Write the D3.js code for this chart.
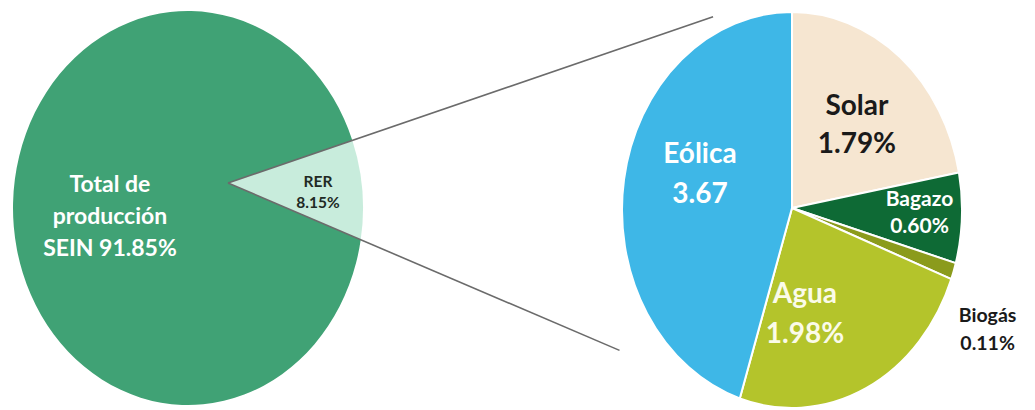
<!DOCTYPE html>
<html>
<head>
<meta charset="utf-8">
<script src="https://cdn.jsdelivr.net/npm/d3@7"></script>
<style>
  html, body { margin: 0; padding: 0; background: #ffffff; }
  svg { display: block; font-family: Lato, "Open Sans", sans-serif; }
</style>
</head>
<body>
<svg id="chart" width="1035" height="410"></svg>
<script>
// ---------- data ----------
const leftCategories = ["Total de producción SEIN", "RER"];
const leftValues = [91.85, 8.15];
const leftLabels = [["Total de", "producción", "SEIN 91.85%"], ["RER", "8.15%"]];

const rightCategories = ["Solar", "Bagazo", "Biogás", "Agua", "Eólica"];
const rightValues = [1.79, 0.60, 0.11, 1.98, 3.67];
const rightLabels = [["Solar", "1.79%"], ["Bagazo", "0.60%"], ["Biogás", "0.11%"], ["Agua", "1.98%"], ["Eólica", "3.67"]];

// ---------- layout / style ----------
const leftColors = d3.scaleOrdinal().domain(leftCategories).range(["#40a275", "#c8ecdc"]);
const rightColors = d3.scaleOrdinal().domain(rightCategories)
  .range(["#f6e6d1", "#0e6a35", "#8b9b1c", "#b4c42b", "#3eb7e7"]);

const L = { cx: 188, cy: 208, rx: 175, ry: 197, apex: [228, 183], rerMidDeg: 84.6 };
const R = { cx: 792, cy: 210, rx: 170, ry: 198, apex: [792, 208] };

const svg = d3.select("#chart");

// point on an ellipse at a d3-style angle (0 = top, clockwise), radius factor k
function ellPt(E, a, k = 1) {
  return [E.cx + k * E.rx * Math.sin(a), E.cy - k * E.ry * Math.cos(a)];
}
// wedge from apex to the ellipse boundary between two angles
function wedge(E, d) {
  const p0 = ellPt(E, d.startAngle), p1 = ellPt(E, d.endAngle);
  const large = (d.endAngle - d.startAngle) > Math.PI ? 1 : 0;
  return `M${E.apex[0]},${E.apex[1]}L${p0[0]},${p0[1]}A${E.rx},${E.ry} 0 ${large} 1 ${p1[0]},${p1[1]}Z`;
}

// ---------- left pie ----------
const rerFrac = leftValues[1] / d3.sum(leftValues);
const rerEnd = L.rerMidDeg * Math.PI / 180 + rerFrac * Math.PI;
const leftPie = d3.pie().sort(null).value(d => d)
  .startAngle(rerEnd - 2 * Math.PI).endAngle(rerEnd);
const leftArcs = leftPie(leftValues);

svg.append("g").selectAll("path").data(leftArcs).join("path")
  .attr("d", d => wedge(L, d))
  .attr("fill", (d, i) => leftColors(leftCategories[i]));

// connector lines (extensions of the RER slice edges)
const rer = leftArcs[1];
const edgePts = [ellPt(L, rer.startAngle), ellPt(L, rer.endAngle)];
const extend = [3.9, 2.95];
svg.append("g").selectAll("line").data(edgePts).join("line")
  .attr("x1", L.apex[0]).attr("y1", L.apex[1])
  .attr("x2", (p, i) => L.apex[0] + extend[i] * (p[0] - L.apex[0]))
  .attr("y2", (p, i) => L.apex[1] + extend[i] * (p[1] - L.apex[1]))
  .attr("stroke", "#6b6b6b").attr("stroke-width", 1.6);

// left labels
const leftLabelCfg = [
  { k: 0.448, dx: 0, dy: 0, size: 23, gap: 32, color: "#ffffff" },
  { k: 0.746, dx: 0, dy: -2, size: 15.5, gap: 21, color: "#1f2a24" }
];
leftArcs.forEach((d, i) => {
  const c = leftLabelCfg[i];
  const mid = (d.startAngle + d.endAngle) / 2;
  const [x, y] = ellPt(L, mid, c.k);
  const lines = leftLabels[i];
  const t = svg.append("text")
    .attr("text-anchor", "middle")
    .attr("font-size", c.size).attr("font-weight", 700)
    .attr("fill", c.color);
  lines.forEach((s, j) => {
    t.append("tspan").attr("x", x + c.dx)
      .attr("y", y + c.dy + (j - (lines.length - 1) / 2) * c.gap)
      .attr("dy", "0.35em").text(s);
  });
});

// ---------- right pie ----------
const rightPie = d3.pie().sort(null).value(d => d).startAngle(0).endAngle(2 * Math.PI);
const rightArcs = rightPie(rightValues);

svg.append("g").selectAll("path").data(rightArcs).join("path")
  .attr("d", d => wedge(R, d))
  .attr("fill", (d, i) => rightColors(rightCategories[i]))
  .attr("stroke", "#ffffff").attr("stroke-width", 2).attr("stroke-linejoin", "round");

const rightLabelCfg = [
  { k: 0.60, dx: 0, dy: 6, size: 28, gap: 38, color: "#1a1a1a" },
  { k: 0.68, dx: 12, dy: -3, size: 21, gap: 27, color: "#ffffff" },
  { k: 1.21, dx: 0, dy: 45, size: 19.5, gap: 28, color: "#1a1a1a" },
  { k: 0.58, dx: -30, dy: 0, size: 28, gap: 40, color: "#fbfbe9" },
  { k: 0.548, dx: 0, dy: -20, size: 28, gap: 40, color: "#ffffff" }
];
rightArcs.forEach((d, i) => {
  const c = rightLabelCfg[i];
  const mid = (d.startAngle + d.endAngle) / 2;
  const [x, y] = ellPt(R, mid, c.k);
  const lines = rightLabels[i];
  const t = svg.append("text")
    .attr("text-anchor", "middle")
    .attr("font-size", c.size).attr("font-weight", 700)
    .attr("fill", c.color);
  lines.forEach((s, j) => {
    t.append("tspan").attr("x", x + c.dx)
      .attr("y", y + c.dy + (j - (lines.length - 1) / 2) * c.gap)
      .attr("dy", "0.35em").text(s);
  });
});
</script>
</body>
</html>
